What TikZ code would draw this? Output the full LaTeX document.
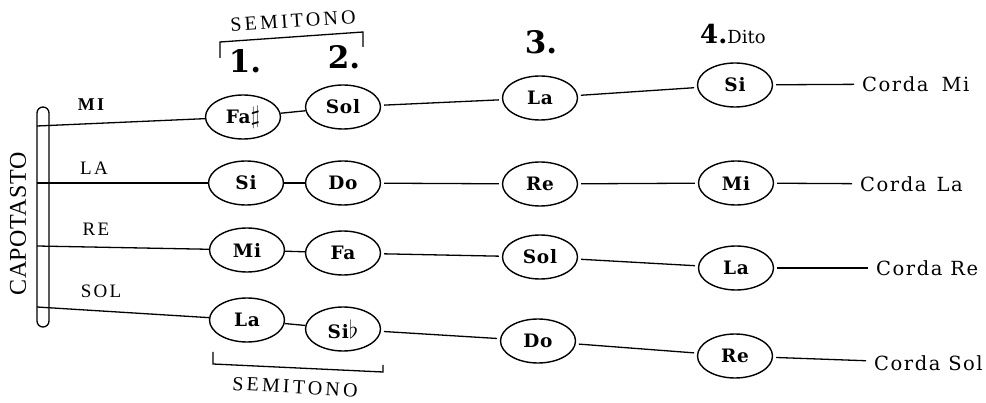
\documentclass[tikz,border=0pt]{standalone}
\usepackage{fontspec}
\setmainfont{DejaVu Serif}
\newfontfamily\notefont[LetterSpace=4]{DejaVu Serif}
\newfontfamily\cordafont[LetterSpace=8]{DejaVu Serif}
\newfontfamily\capsfont[LetterSpace=12]{Liberation Serif}
\newfontfamily\semifont[LetterSpace=16]{Liberation Serif}
\newfontfamily\nutfont[LetterSpace=2]{Liberation Serif}
\newfontfamily\numfont{DejaVu Serif}
\usetikzlibrary{shapes.geometric}

\newcommand{\shp}{{\fontsize{23}{23}\selectfont$\sharp$}}
\newcommand{\flt}{{\fontsize{23}{23}\selectfont$\flat$}}

\tikzset{
  note/.style={draw, ellipse, line width=1.4pt, minimum width=75pt, minimum height=44pt,
               inner sep=0pt, font=\notefont\bfseries\fontsize{18.5}{20}\selectfont},
  wire/.style={line width=1.3pt},
  gapwire/.style={wire, shorten <=3pt, shorten >=3pt},
  strname/.style={font=\capsfont\fontsize{19}{21}\selectfont, inner sep=0pt},
  corda/.style={anchor=west, inner sep=0pt, font=\cordafont\fontsize{19.5}{21}\selectfont},
  finger/.style={inner sep=0pt, font=\numfont\bfseries\fontsize{31}{33}\selectfont},
  bracket/.style={line width=1.3pt},
  semi/.style={inner sep=0pt, font=\semifont\fontsize{20}{22}\selectfont}
}

\begin{document}
\begin{tikzpicture}[x=1pt,y=-1pt]
\useasboundingbox (0,0) rectangle (986,403);

% nut of the neck
\draw[line width=1.3pt, rounded corners=6pt] (37,107) rectangle (49,327);
\node[rotate=90, inner sep=0pt, font=\nutfont\fontsize{24}{26}\selectfont] (capo) at (18,224) {CAPOTASTO};

\coordinate (n1) at (37,126);
\coordinate (n2) at (37,183);
\coordinate (n3) at (37,246);
\coordinate (n4) at (37,307);

% open string names
\node[strname, font=\capsfont\bfseries\fontsize{18}{20}\selectfont] (smi) at (91,105) {MI};
\node[strname] (sla) at (94,168) {LA};
\node[strname] (sre) at (96,229) {RE};
\node[strname] (ssol) at (101,291) {SOL};

% fingers 1 and 2 (semitone apart)
\node[note] (a1) at (243,117) {Fa\shp};
\node[note] (b1) at (343,107) {Sol};
\node[note] (a2) at (246,183) {Si};
\node[note] (b2) at (343,183) {Do};
\node[note] (a3) at (247,250) {Mi};
\node[note] (b3) at (343,253) {Fa};
\node[note] (a4) at (247,320) {La};
\node[note] (b4) at (343,329) {Si\flt};

% fingers 3 and 4
\node[note] (c1) at (540,98) {La};
\node[note] (d1) at (735,85) {Si};
\node[note] (c2) at (540,184) {Re};
\node[note] (d2) at (736,183) {Mi};
\node[note] (c3) at (540,257) {Sol};
\node[note] (d3) at (736,268) {La};
\node[note] (c4) at (538,341) {Do};
\node[note] (d4) at (735,356) {Re};

% string labels on the right
\node[corda] (k1) at (862,84) {Corda\hspace*{13pt}Mi};
\node[corda] (k2) at (860,184) {Corda\hspace*{10pt}La};
\node[corda] (k3) at (876,268) {Corda Re};
\node[corda] (k4) at (874,363) {Corda Sol};

% finger numbers
\node[finger] (f1) at (245,61) {1.};
\node[finger] (f2) at (344,57) {2.};
\node[finger] (f3) at (541,42) {3.};
\node[inner sep=0pt, anchor=base west] (f4) at (700,44) {\numfont\bfseries\fontsize{26}{28}\selectfont 4.\normalfont\fontsize{18}{20}\selectfont Dito};

% strings
\foreach \r in {1,2,3,4}{
  \draw[wire] (n\r) -- (a\r);
  \draw[wire] (a\r) -- (b\r);
  \draw[gapwire] (b\r) -- (c\r);
  \draw[gapwire] (c\r) -- (d\r);
  \draw[wire, shorten <=3pt, shorten >=8pt] (d\r) -- (k\r);
}

% semitone brackets
\coordinate (t1) at (220,58);
\coordinate (t2) at (220,42);
\coordinate (t3) at (363,32);
\coordinate (t4) at (363,47);
\draw[bracket] (t1) -- (t2) -- (t3) -- (t4);
\node[semi, rotate=4] (semtop) at (293,21) {SEMITONO};

\coordinate (u1) at (213,352);
\coordinate (u2) at (213,364);
\coordinate (u3) at (383,372);
\coordinate (u4) at (383,365);
\draw[bracket] (u1) -- (u2) -- (u3) -- (u4);
\node[semi, rotate=-3] (sembot) at (295,387) {SEMITONO};
\end{tikzpicture}
\end{document}
